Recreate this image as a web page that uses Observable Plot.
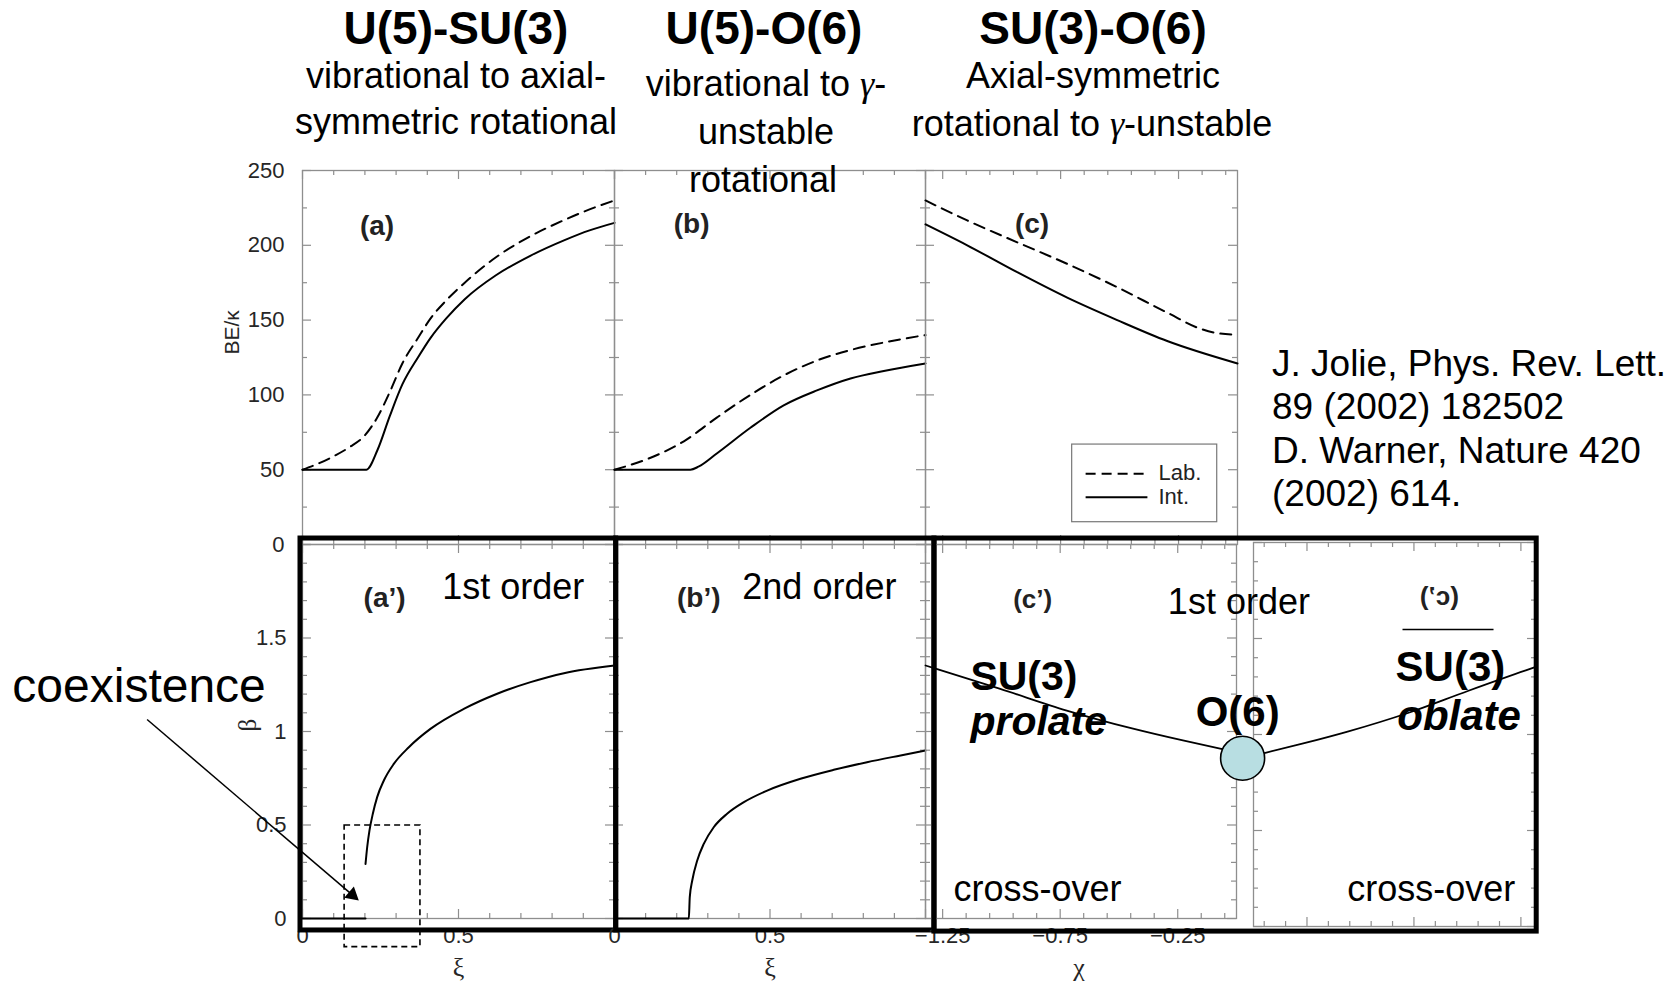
<!DOCTYPE html>
<html><head><meta charset="utf-8">
<script src="https://cdn.jsdelivr.net/npm/d3@7"></script>
<script src="https://cdn.jsdelivr.net/npm/@observablehq/plot@0.6"></script>
<style>
body{margin:0;background:#fff;}
#fig{position:relative;width:1672px;height:984px;overflow:hidden;background:#fff;font-family:"Liberation Sans",Arial,Helvetica,sans-serif;}
.lbl{position:absolute;white-space:nowrap;line-height:1;color:#000;}
.g{font-family:"Liberation Serif","Times New Roman",serif;font-style:italic;}
</style></head><body><div id="fig"></div>
<script>
// ---------- data ----------
// (a) U(5)-SU(3): BE/kappa vs xi
const xiA_int = [0, 0.205, 0.24, 0.28, 0.32, 0.37, 0.41, 0.46, 0.52, 0.62, 0.73, 0.84, 0.92, 1.0];
const beA_int = [50, 50, 63, 86, 107, 125, 138, 151, 164, 180, 193, 203.5, 210, 215];
const xiA_lab = [0, 0.05, 0.1, 0.15, 0.2, 0.24, 0.28, 0.32, 0.37, 0.41, 0.46, 0.52, 0.62, 0.73, 0.84, 0.92, 1.0];
const beA_lab = [50, 54, 59, 65, 73, 85, 102, 121, 138, 151, 163, 175, 192, 206, 217, 224, 230];
// (b) U(5)-O(6)
const xiB_int = [0, 0.244, 0.27, 0.33, 0.437, 0.544, 0.651, 0.759, 0.866, 1.0];
const beB_int = [50, 50, 52, 61, 78, 93, 103, 111, 116, 121];
const xiB_lab = [0, 0.116, 0.223, 0.33, 0.437, 0.544, 0.651, 0.759, 0.866, 1.0];
const beB_lab = [50, 58, 69, 85, 100, 113, 123, 130, 135, 140];
// (c) SU(3)-O(6): BE/kappa vs chi
const chiC_lab = [-1.3229, -1.146, -0.934, -0.722, -0.51, -0.298, -0.157, -0.087, 0];
const beC_lab = [230, 216.6, 202, 187.6, 172, 155, 144.2, 141.3, 140.2];
const chiC_int = [-1.3229, -1.146, -0.934, -0.722, -0.51, -0.298, 0];
const beC_int = [214, 200, 182, 165, 150, 136, 121];
// (a') beta vs xi
const xiA_flat = [0, 0.202];
const betaA_flat = [0, 0];
const xiA_beta = [0.202, 0.2073, 0.2147, 0.2254, 0.2393, 0.2607, 0.2927, 0.3408, 0.41, 0.517, 0.624, 0.731, 0.838, 1.0];
const betaA = [0.292, 0.381, 0.471, 0.56, 0.649, 0.738, 0.827, 0.916, 1.014, 1.121, 1.202, 1.264, 1.312, 1.353];
// (b') beta vs xi
const xiB_beta = [0, 0.239, 0.242, 0.25, 0.266, 0.287, 0.319, 0.362, 0.416, 0.491, 0.598, 0.705, 0.812, 0.92, 1.0];
const betaB = [0, 0, 0.114, 0.203, 0.31, 0.399, 0.488, 0.56, 0.622, 0.684, 0.747, 0.795, 0.836, 0.872, 0.898];
// (c') beta vs chi
const chiC_beta = [-1.3229, -1.273, -1.005, -0.722, -0.44, -0.228, -0.06, 0];
const betaC = [1.353, 1.334, 1.228, 1.112, 1.015, 0.952, 0.906, 0.89];

// ticks and tick labels
const beTicks = [0, 25, 50, 75, 100, 125, 150, 175, 200, 225, 250];
const beMajor = [0, 50, 100, 150, 200, 250];
const beLabels = [0, 50, 100, 150, 200, 250];
const betaTicks = [0, 0.1, 0.2, 0.3, 0.4, 0.5, 0.6, 0.7, 0.8, 0.9, 1, 1.1, 1.2, 1.3, 1.4, 1.5, 1.6, 1.7, 1.8, 1.9, 2];
const betaMajor = [0, 0.5, 1, 1.5, 2];
const betaLabels = [0, 0.5, 1, 1.5];
const xiTicks = [0, 0.1, 0.2, 0.3, 0.4, 0.5, 0.6, 0.7, 0.8, 0.9, 1];
const xiMajor = [0, 0.5, 1];
const xiLabels = [0, 0.5];
const chiTicks = [-1.25, -1.15, -1.05, -0.95, -0.85, -0.75, -0.65, -0.55, -0.45, -0.35, -0.25, -0.15, -0.05];
const chiMajor = [-1.25, -0.75, -0.25];
const chiLabels = [-1.25, -0.75, -0.25];
const CHI_MIN = -1.3229;

// ---------- helpers ----------
const FONT = "'Liberation Sans', Arial, Helvetica, sans-serif";
const SERIF = "'Liberation Serif', 'Times New Roman', serif";
const GRID = "#8e8e8e";
const LBL = "#262626";
const fig = document.getElementById("fig");
const pts = (xs, ys) => xs.map((x, i) => ({x, y: ys[i]}));
const notMajor = (all, major) => all.filter(d => !major.some(m => Math.abs(m - d) < 1e-9));
const fmt = d => (d < 0 ? "\u2212" + Math.abs(d) : String(d));
const SOLID = {x: "x", y: "y", stroke: "#000", strokeWidth: 2, curve: "monotone-x"};
const DASHED = {...SOLID, strokeDasharray: "11,7"};

function tickMarks(xAll, xMaj, yAll, yMaj, W, H) {
  const st = {stroke: GRID, strokeWidth: 1.2};
  const m = [];
  for (const [arr, len] of [[notMajor(xAll, xMaj), 5], [xMaj, 9]]) {
    m.push(Plot.tickX(arr, {x: d => d, insetBottom: H - len, ...st}));
    m.push(Plot.tickX(arr, {x: d => d, insetTop: H - len, ...st}));
  }
  for (const [arr, len] of [[notMajor(yAll, yMaj), 5], [yMaj, 9]]) {
    m.push(Plot.tickY(arr, {y: d => d, insetRight: W - len, ...st}));
    m.push(Plot.tickY(arr, {y: d => d, insetLeft: W - len, ...st}));
  }
  return m;
}
const note = (data, o = {}) => Plot.text(data, {x: "x", y: "y", text: "t", lineAnchor: "bottom", fill: "#000", fontFamily: FONT, ...o});

function panel({L, T, W, H, xDomain, yDomain, xReverse = false, marks, mL = 40, mR = 40, mT = 40, mB = 80}) {
  const svg = Plot.plot({
    width: W + mL + mR, height: H + mT + mB,
    marginLeft: mL, marginRight: mR, marginTop: mT, marginBottom: mB,
    x: {domain: xDomain, reverse: xReverse, axis: null},
    y: {domain: yDomain, axis: null},
    style: {background: "transparent", overflow: "visible", fontFamily: FONT},
    marks
  });
  Object.assign(svg.style, {position: "absolute", left: (L - mL) + "px", top: (T - mT) + "px", maxWidth: "none"});
  fig.appendChild(svg);
  return svg;
}

function html(text, {x, base, size, weight = 400, anchor = "middle"}) {
  const d = document.createElement("div");
  d.className = "lbl";
  d.innerHTML = text;
  d.style.fontSize = size + "px";
  d.style.fontWeight = weight;
  d.style.top = (base - 0.8465 * size) + "px";
  d.style.left = x + "px";
  if (anchor === "middle") d.style.transform = "translateX(-50%)";
  fig.appendChild(d);
}

// ---------- geometry of panels (pixels) ----------
const TOP = {T: 170, H: 374}, BOT = {T: 544, H: 374};
const colA = {L: 302, W: 312}, colB = {L: 614, W: 311}, colC = {L: 925, W: 312};
const tickLabel = {fontSize: 22, fill: LBL, fontFamily: FONT};

// ---------- top row ----------
panel({...TOP, ...colA, mL: 302, xDomain: [0, 1], yDomain: [0, 250], marks: [
  Plot.frame({stroke: GRID, strokeWidth: 1.3}),
  ...tickMarks(xiTicks, xiMajor, beTicks, beMajor, colA.W, TOP.H),
  Plot.line(pts(xiA_lab, beA_lab), DASHED),
  Plot.line(pts(xiA_int, beA_int), SOLID),
  note([{t: "(a)", x: 0.239, y: 207}], {fontSize: 28, fontWeight: "bold", fill: "#222"}),
  Plot.text(beLabels, {y: d => d, text: d => String(d), frameAnchor: "left", textAnchor: "end", dx: -18, ...tickLabel}),
  Plot.text([{t: "BE/\u03ba", y: 127}], {y: "y", text: "t", frameAnchor: "left", dx: -70, rotate: -90, fontSize: 21, fill: LBL, fontFamily: FONT})
]});

panel({...TOP, ...colB, xDomain: [0, 1], yDomain: [0, 250], marks: [
  Plot.frame({stroke: GRID, strokeWidth: 1.3}),
  ...tickMarks(xiTicks, xiMajor, beTicks, beMajor, colB.W, TOP.H),
  Plot.line(pts(xiB_lab, beB_lab), DASHED),
  Plot.line(pts(xiB_int, beB_int), SOLID),
  note([{t: "(b)", x: 0.248, y: 208}], {fontSize: 28, fontWeight: "bold", fill: "#222"})
]});

panel({...TOP, ...colC, xDomain: [CHI_MIN, 0], yDomain: [0, 250], marks: [
  Plot.frame({stroke: GRID, strokeWidth: 1.3}),
  ...tickMarks(chiTicks, chiMajor, beTicks, beMajor, colC.W, TOP.H),
  Plot.line(pts(chiC_lab, beC_lab), DASHED),
  Plot.line(pts(chiC_int, beC_int), SOLID),
  note([{t: "(c)", x: -0.871, y: 208}], {fontSize: 28, fontWeight: "bold", fill: "#222"}),
  // legend
  Plot.rect([{x1: -0.701, x2: -0.086, y1: 14.9, y2: 66.8}], {x1: "x1", x2: "x2", y1: "y1", y2: "y2", fill: "#fff", stroke: "#777", strokeWidth: 1.2}),
  Plot.link([{x1: -0.644, x2: -0.382, y: 47.3}], {x1: "x1", x2: "x2", y1: "y", y2: "y", stroke: "#000", strokeWidth: 2, strokeDasharray: "10,6"}),
  Plot.link([{x1: -0.644, x2: -0.382, y: 31.6}], {x1: "x1", x2: "x2", y1: "y", y2: "y", stroke: "#000", strokeWidth: 2}),
  Plot.text([{t: "Lab.", x: -0.335, y: 48}, {t: "Int.", x: -0.335, y: 32}], {x: "x", y: "y", text: "t", textAnchor: "start", lineAnchor: "middle", fontSize: 22, fill: "#222", fontFamily: FONT})
]});

// ---------- bottom row ----------
// mirrored copy (oblate side), drawn first so the O(6) circle lies above it
const mir = panel({L: 1253, T: 542, W: 283, H: 384, xDomain: [CHI_MIN, 0], xReverse: true, yDomain: [0, 2], marks: [
  Plot.frame({stroke: GRID, strokeWidth: 1.3}),
  ...tickMarks(chiTicks, chiMajor, betaTicks, betaMajor, 283, 384),
  Plot.line(pts(chiC_beta, betaC), {...SOLID, strokeWidth: 1.8}),
  note([{t: "(c\u2019)", x: -0.869, y: 1.672}], {fontSize: 26, fontWeight: "bold", fill: "#222", textAnchor: "middle"}),
  Plot.link([{x1: -0.6965, x2: -1.122, y: 1.547}], {x1: "x1", x2: "x2", y1: "y", y2: "y", stroke: "#000", strokeWidth: 1.5}),
  note([{t: "SU(3)", x: -0.664, y: 1.281}], {fontSize: 42, fontWeight: "bold", textAnchor: "start"}),
  note([{t: "oblate", x: -0.672, y: 1.021}], {fontSize: 42, fontWeight: "bold", fontStyle: "italic", textAnchor: "start"}),
  note([{t: "cross-over", x: -0.438, y: 0.135}], {fontSize: 36, textAnchor: "start"})
]});
d3.select(mir).selectAll("text").filter(function () { return this.textContent === "(c\u2019)"; }).each(function () {
  const b = this.getBBox(), cx = b.x + b.width / 2;
  const t = this.getAttribute("transform") || "";
  this.setAttribute("transform", `${t} translate(${cx},0) scale(-1,1) translate(${-cx},0)`);
});

panel({...BOT, ...colA, mL: 302, xDomain: [0, 1], yDomain: [0, 2], marks: [
  Plot.frame({stroke: GRID, strokeWidth: 1.3}),
  ...tickMarks(xiTicks, xiMajor, betaTicks, betaMajor, colA.W, BOT.H),
  Plot.line(pts(xiA_flat, betaA_flat), SOLID),
  Plot.line(pts(xiA_beta, betaA), SOLID),
  note([{t: "(a\u2019)", x: 0.263, y: 1.668}], {fontSize: 28, fontWeight: "bold", fill: "#222"}),
  note([{t: "1st order", x: 0.448, y: 1.711}], {fontSize: 36, textAnchor: "start"}),
  Plot.text(betaLabels, {y: d => d, text: d => String(d), frameAnchor: "left", textAnchor: "end", dx: -16, ...tickLabel}),
  Plot.text(xiLabels, {x: d => d, text: d => String(d), frameAnchor: "bottom", dy: 24, ...tickLabel}),
  Plot.text([{t: "\u03be", x: 0.5}], {x: "x", text: "t", frameAnchor: "bottom", dy: 57, fontSize: 26, fill: LBL, fontFamily: SERIF}),
  Plot.text([{t: "\u03b2", y: 1}], {y: "y", text: "t", frameAnchor: "left", dx: -55, rotate: -90, fontSize: 25, fill: LBL, fontFamily: SERIF}),
  // coexistence region and arrow
  Plot.rect([{x1: 0.135, x2: 0.378, y1: -0.153, y2: 0.497}], {x1: "x1", x2: "x2", y1: "y1", y2: "y2", fill: "none", stroke: "#000", strokeWidth: 1.6, strokeDasharray: "6,4"}),
  note([{t: "coexistence", x: -0.93, y: 1.157}], {fontSize: 48, textAnchor: "start"}),
  Plot.link([{x1: -0.498, y1: 1.064, x2: 0.1596, y2: 0.126}], {x1: "x1", y1: "y1", x2: "x2", y2: "y2", stroke: "#000", strokeWidth: 1.5}),
  Plot.dot([{x: 0.1596, y: 0.126}], {x: "x", y: "y", symbol: "triangle", r: 5.5, fill: "#000", rotate: 130.6}),
  Plot.rect([{x1: -0.0064, x2: 1.0054, y1: -0.064, y2: 2.032}], {x1: "x1", x2: "x2", y1: "y1", y2: "y2", fill: "none", stroke: "#000", strokeWidth: 5})
]});

panel({...BOT, ...colB, xDomain: [0, 1], yDomain: [0, 2], marks: [
  Plot.frame({stroke: GRID, strokeWidth: 1.3}),
  ...tickMarks(xiTicks, xiMajor, betaTicks, betaMajor, colB.W, BOT.H),
  Plot.line(pts(xiB_beta, betaB), SOLID),
  note([{t: "(b\u2019)", x: 0.271, y: 1.668}], {fontSize: 28, fontWeight: "bold", fill: "#222"}),
  note([{t: "2nd order", x: 0.411, y: 1.711}], {fontSize: 36, textAnchor: "start"}),
  Plot.text(xiLabels, {x: d => d, text: d => String(d), frameAnchor: "bottom", dy: 24, ...tickLabel}),
  Plot.text([{t: "\u03be", x: 0.5}], {x: "x", text: "t", frameAnchor: "bottom", dy: 57, fontSize: 26, fill: LBL, fontFamily: SERIF}),
  Plot.rect([{x1: 0.0055, x2: 1.029, y1: -0.064, y2: 2.032}], {x1: "x1", x2: "x2", y1: "y1", y2: "y2", fill: "none", stroke: "#000", strokeWidth: 5})
]});

panel({...BOT, L: 925, W: 311, xDomain: [CHI_MIN, 0], yDomain: [0, 2], marks: [
  Plot.frame({stroke: GRID, strokeWidth: 1.3}),
  ...tickMarks(chiTicks, chiMajor, betaTicks, betaMajor, 311, BOT.H),
  Plot.line(pts(chiC_beta, betaC), {...SOLID, strokeWidth: 1.8}),
  note([{t: "(c\u2019)", x: -0.867, y: 1.663}], {fontSize: 26, fontWeight: "bold", fill: "#222"}),
  note([{t: "1st order", x: -0.292, y: 1.631}], {fontSize: 36, textAnchor: "start"}),
  note([{t: "SU(3)", x: -1.132, y: 1.222}], {fontSize: 41, fontWeight: "bold", textAnchor: "start"}),
  note([{t: "prolate", x: -1.132, y: 0.98}], {fontSize: 41, fontWeight: "bold", fontStyle: "italic", textAnchor: "start"}),
  note([{t: "O(6)", x: 0.005, y: 1.032}], {fontSize: 42, fontWeight: "bold"}),
  note([{t: "cross-over", x: -1.204, y: 0.096}], {fontSize: 36, textAnchor: "start"}),
  Plot.text(chiLabels, {x: d => d, text: fmt, frameAnchor: "bottom", dy: 24, ...tickLabel}),
  Plot.text([{t: "\u03c7", x: -0.67}], {x: "x", text: "t", frameAnchor: "bottom", dy: 57, fontSize: 26, fill: LBL, fontFamily: SERIF}),
  Plot.rect([{x1: -1.285, x2: 1.277, y1: -0.07, y2: 2.032}], {x1: "x1", x2: "x2", y1: "y1", y2: "y2", fill: "none", stroke: "#000", strokeWidth: 5}),
  Plot.dot([{x: 0.026, y: 0.857}], {x: "x", y: "y", r: 22, fill: "#b8dee2", stroke: "#000", strokeWidth: 1.6})
]});

// ---------- titles, subtitles and reference ----------
const G = '<span class="g">\u03b3</span>';
html("U(5)-SU(3)", {x: 456, base: 44, size: 46, weight: 700});
html("vibrational to axial-", {x: 456, base: 88, size: 36});
html("symmetric rotational", {x: 456, base: 134, size: 36});
html("U(5)-O(6)", {x: 764, base: 44, size: 46, weight: 700});
html("vibrational to " + G + "-", {x: 766, base: 96, size: 36});
html("unstable", {x: 766, base: 144, size: 36});
html("rotational", {x: 763, base: 192, size: 36});
html("SU(3)-O(6)", {x: 1093, base: 44, size: 46, weight: 700});
html("Axial-symmetric", {x: 1093, base: 88, size: 36});
html("rotational to " + G + "-unstable", {x: 1092, base: 136, size: 36});
const refLines = ["J. Jolie, Phys. Rev. Lett.", "89 (2002) 182502", "D. Warner, Nature 420", "(2002) 614."];
refLines.forEach((t, i) => html(t, {x: 1272, base: 376 + 43.5 * i, size: 37, anchor: "start"}));
</script></body></html>
